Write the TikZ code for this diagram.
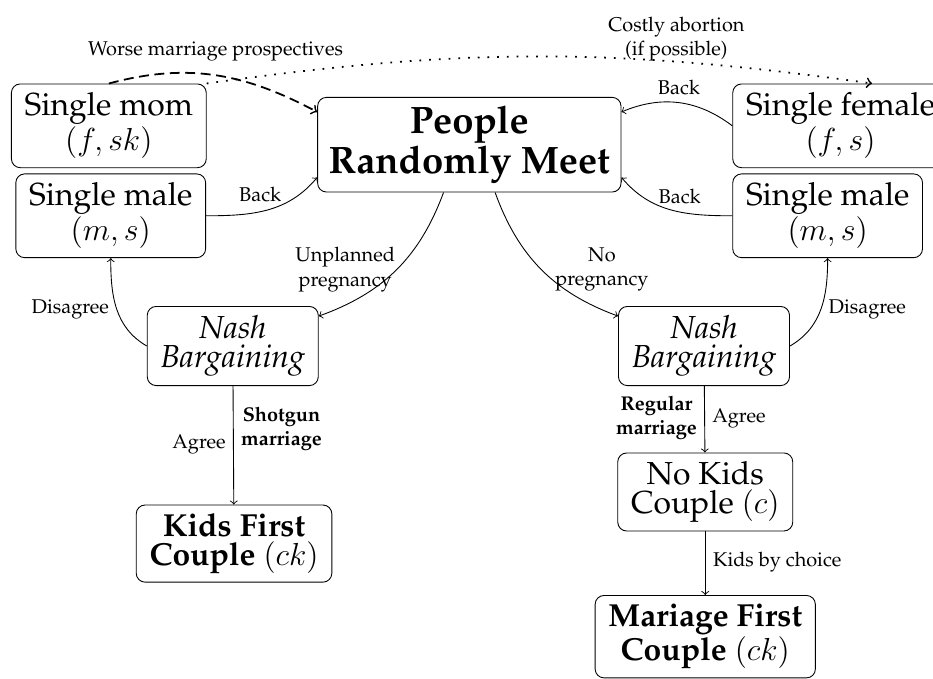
\documentclass[tikz,border=0pt]{standalone}
\usepackage{amsmath}
\usepackage[T1]{fontenc}
\usepackage{palatino}
\usepackage{tikz}
\usetikzlibrary{positioning}
\usetikzlibrary{calc}
\tikzset{stbox/.style={draw, rounded corners=4pt, align=center, inner xsep=6pt, inner ysep=4pt, font=\fontsize{14.4}{12.8}\selectfont},
lbl/.style={font=\small, align=center},
dashedge/.style={thick, dash pattern=on 4.5pt off 2.5pt},
dotedge/.style={thick, dash pattern=on 0.8pt off 3.6pt}}

\begin{document}
\begin{tikzpicture}
\useasboundingbox (0,0) rectangle (14.83,10.79);
\node[stbox] (mom) at (1.73,8.79) {Single mom\\$(f,sk)$};
\node[stbox] (malel) at (1.76,7.36) {Single male\\$(m,s)$};
\node[stbox, inner xsep=5pt, font=\fontsize{17.28}{14.5}\selectfont\bfseries] (meet) at (7.46,8.49) {People\\Randomly Meet};
\node[stbox, anchor=west] (female) at (11.64,8.79) {Single female\\$(f,s)$};
\node[stbox, anchor=west] (maler) at (11.64,7.36) {Single male\\$(m,s)$};
\node[stbox, font=\fontsize{14.4}{13.4}\selectfont\itshape] (nashl) at (3.70,5.29) {Nash\\Bargaining};
\node[stbox, font=\fontsize{14.4}{13.4}\selectfont\itshape] (nashr) at (11.19,5.29) {Nash\\Bargaining};
\node[stbox, font=\fontsize{14.4}{12.8}\selectfont\bfseries] (kids) at (3.72,2.15) {Kids First\\Couple $(ck)$};
\node[stbox] (nokids) at (11.21,2.97) {No Kids\\Couple $(c)$};
\node[stbox, font=\fontsize{14.4}{12.8}\selectfont\bfseries] (mariage) at (11.21,0.67) {Mariage First\\Couple $(ck)$};

\coordinate (meetnw) at ($(meet.west)+(0,0.52)$);
\coordinate (meetsw) at ($(meet.west)+(0,-0.52)$);
\coordinate (meetne) at ($(meet.east)+(0,0.52)$);
\coordinate (meetse) at ($(meet.east)+(0,-0.52)$);
\coordinate (meetsl) at ($(meet.south)+(-0.41,0)$);
\coordinate (meetsr) at ($(meet.south)+(0.41,0)$);
\coordinate (nashlne) at ($(nashl.north east)+(0,-0.16)$);
\coordinate (nashrnw) at ($(nashr.north west)+(0,-0.16)$);
\coordinate (femtop) at ($(female.north)+(0.5,0)$);

% top curves
\draw[dashedge,->] (mom.north) to[out=15,in=152] node[midway, above, lbl, yshift=0.1cm] {Worse marriage prospectives} (meetnw);
\draw[dotedge,->] (mom.north east) to[out=8,in=172] node[pos=0.72, above, lbl, yshift=-0.12cm] {Costly abortion\\(if possible)} (femtop);
\draw[->] (female.west) to[bend right=30] node[midway, above, lbl] {Back} (meetne);
\draw[->] (maler.west) to[out=180,in=-50] node[pos=0.42, above, lbl] {Back} (meetse);
\draw[->] (malel.east) to[out=0,in=-130] node[midway, above, lbl, xshift=-0.12cm] {Back} (meetsw);

% meeting outcomes
\draw[->] (meetsl) to[bend left=25] node[midway, left, lbl, xshift=0.1cm] {Unplanned\\pregnancy} (nashlne);
\draw[->] (meetsr) to[bend right=25] node[midway, right, lbl, xshift=0.1cm] {No\\pregnancy} (nashrnw);
\draw[->] (nashl.west) to[out=150,in=-90] node[midway, left, lbl] {Disagree} (malel.south);
\draw[->] (nashr.east) to[out=30,in=-90] node[midway, right, lbl] {Disagree} (maler.south);

% marriages
\draw[->] (nashl) -- (kids) node[pos=0.49, left, lbl] {Agree} node[pos=0.36, right, lbl, font=\small\bfseries] {Shotgun\\marriage};
\draw[->] (nashr) -- (nokids) node[pos=0.48, left, lbl, font=\small\bfseries] {Regular\\marriage} node[pos=0.48, right, lbl] {Agree};
\draw[->] (nokids) -- (mariage) node[pos=0.48, right, lbl] {Kids by choice};
\end{tikzpicture}
\end{document}
